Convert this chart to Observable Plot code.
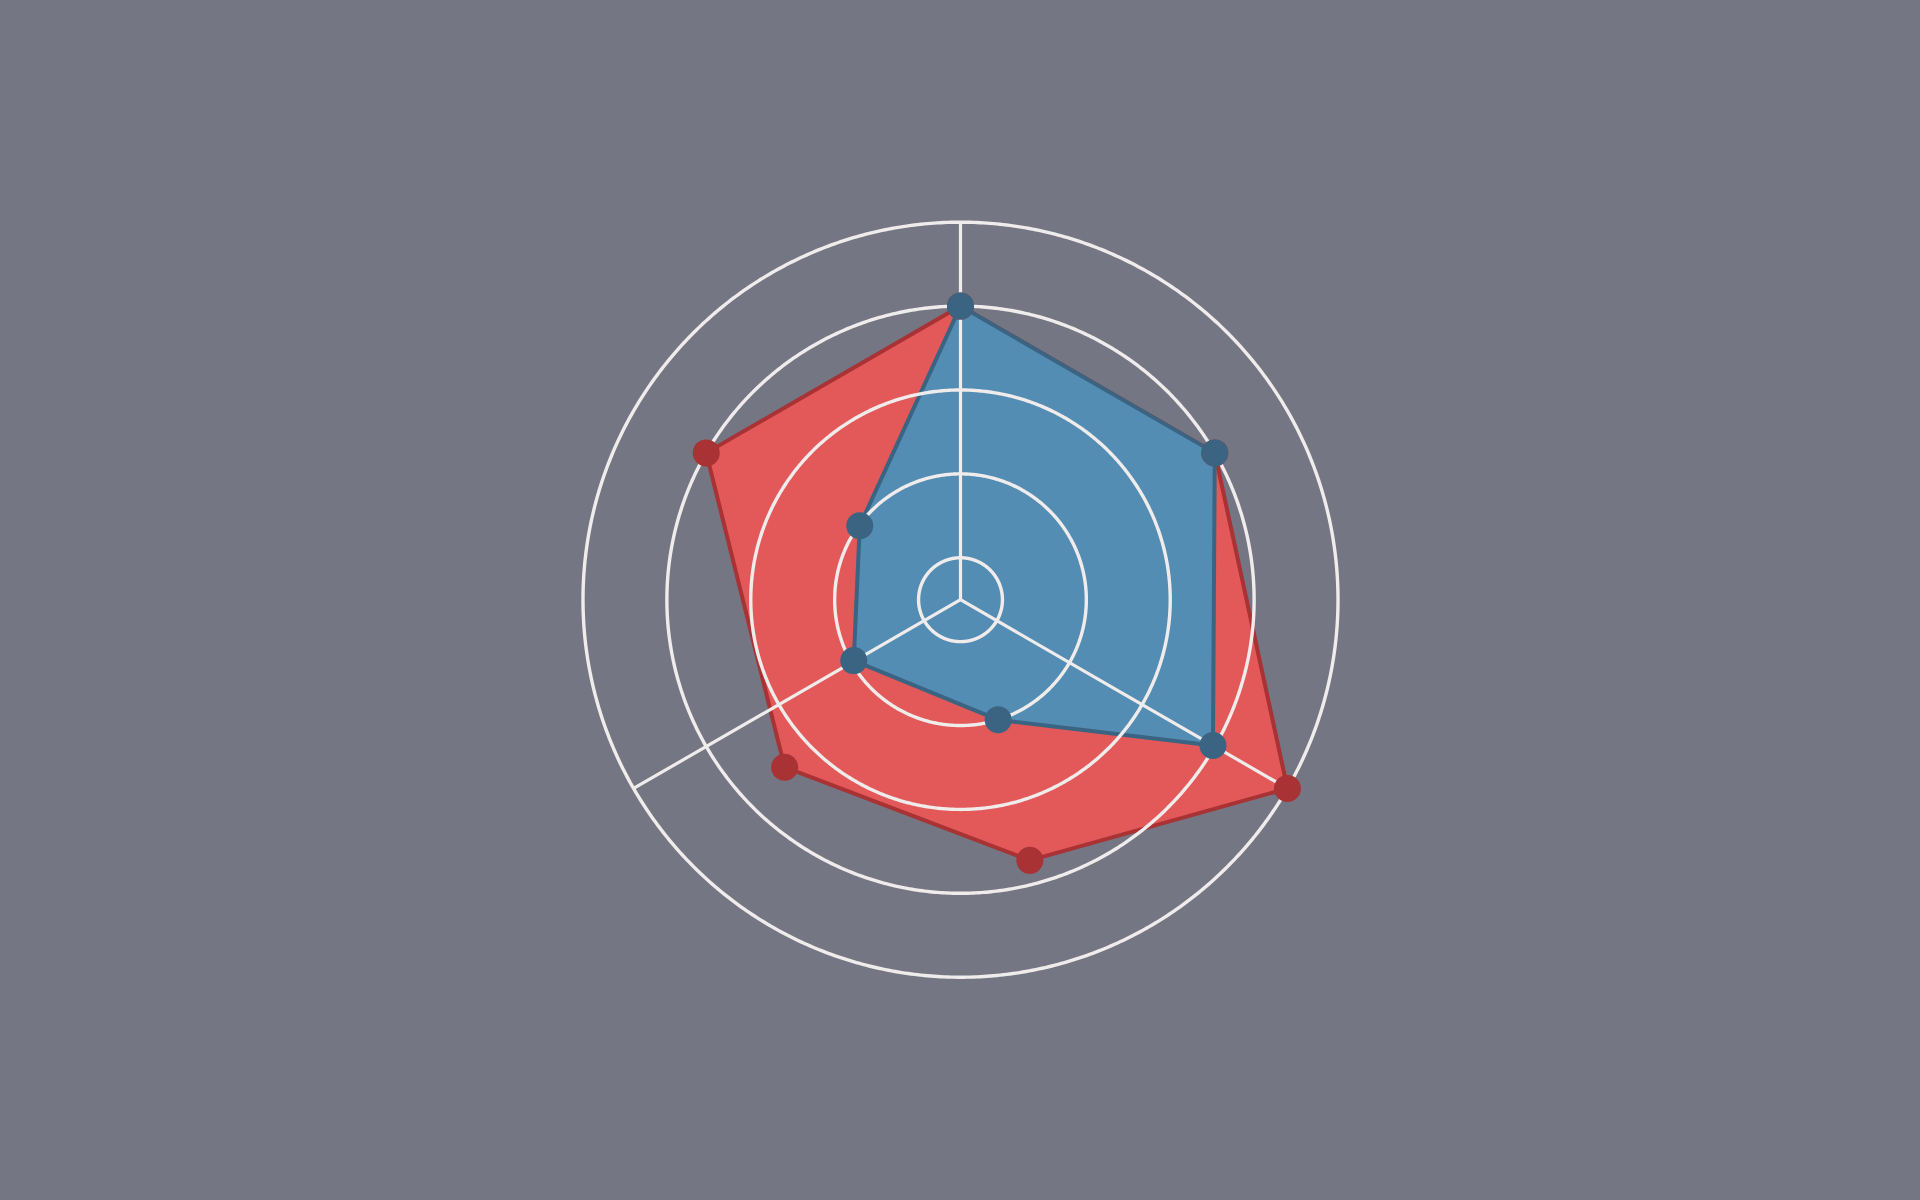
<!DOCTYPE html>
<html>
<head>
<meta charset="utf-8">
<script src="https://cdn.jsdelivr.net/npm/d3@7"></script>
<script src="https://cdn.jsdelivr.net/npm/@observablehq/plot@0.6"></script>
<style>
  html, body { margin: 0; padding: 0; background: #757684; overflow: hidden; }
  #chart svg { display: block; }
</style>
</head>
<body>
<div id="chart"></div>
<script>
// ---- data (angle in degrees clockwise from top, radial value) ----
const blueAngles = [0, 60, 120, 162.6, 240.3, 306.3];
const blueValues = [7, 7, 6.95, 3, 2.93, 2.98];
const redAngles  = [0, 60, 120, 165.1, 226.4, 300];
const redValues  = [7, 7, 9, 6.43, 5.79, 7];
const ringValues = [1, 3, 5, 7, 9];
const spokeAngles = [0, 120, 240];
const radialMax = 9;

// ---- helpers: polar -> sphere coordinates for an azimuthal projection ----
const DEG_PER_UNIT = 5;
const lon = a => 180 - a;
const lat = v => 90 - v * DEG_PER_UNIT;
const rows = (angles, values) => angles.map((a, i) => ({angle: a, value: values[i]}));
const red = rows(redAngles, redValues);
const blue = rows(blueAngles, blueValues);

const frameUnits = radialMax * 400 / 377.5;

const chart = Plot.plot({
  width: 1920,
  height: 1200,
  marginTop: 199.2,
  marginBottom: 200.8,
  marginLeft: 0,
  marginRight: 0,
  style: {background: "#757684"},
  projection: {
    type: "azimuthal-equidistant",
    rotate: [0, -90],
    domain: d3.geoCircle().center([0, 90]).radius(frameUnits * DEG_PER_UNIT).precision(1)()
  },
  marks: [
    Plot.line(red, {
      x: d => lon(d.angle), y: d => lat(d.value),
      curve: "linear-closed", fill: "#e35959", stroke: "#a83234", strokeWidth: 4, strokeLinejoin: "round"
    }),
    Plot.line(blue, {
      x: d => lon(d.angle), y: d => lat(d.value),
      curve: "linear-closed", fill: "#548db3", stroke: "#3a6482", strokeWidth: 4, strokeLinejoin: "round"
    }),
    Plot.geo(ringValues, {
      geometry: v => d3.geoCircle().center([0, 90]).radius(v * DEG_PER_UNIT).precision(0.5)(),
      fill: "none", stroke: "#f0ecec", strokeWidth: 3.4
    }),
    Plot.link(spokeAngles, {
      x1: a => lon(a), y1: 90,
      x2: a => lon(a), y2: () => lat(radialMax),
      stroke: "#f0ecec", strokeWidth: 3.2
    }),
    Plot.dot(red, {x: d => lon(d.angle), y: d => lat(d.value), r: 13.5, fill: "#a83234", stroke: "none"}),
    Plot.dot(blue, {x: d => lon(d.angle), y: d => lat(d.value), r: 13.5, fill: "#3a6482", stroke: "none"})
  ]
});
document.getElementById("chart").appendChild(chart);
</script>
</body>
</html>
